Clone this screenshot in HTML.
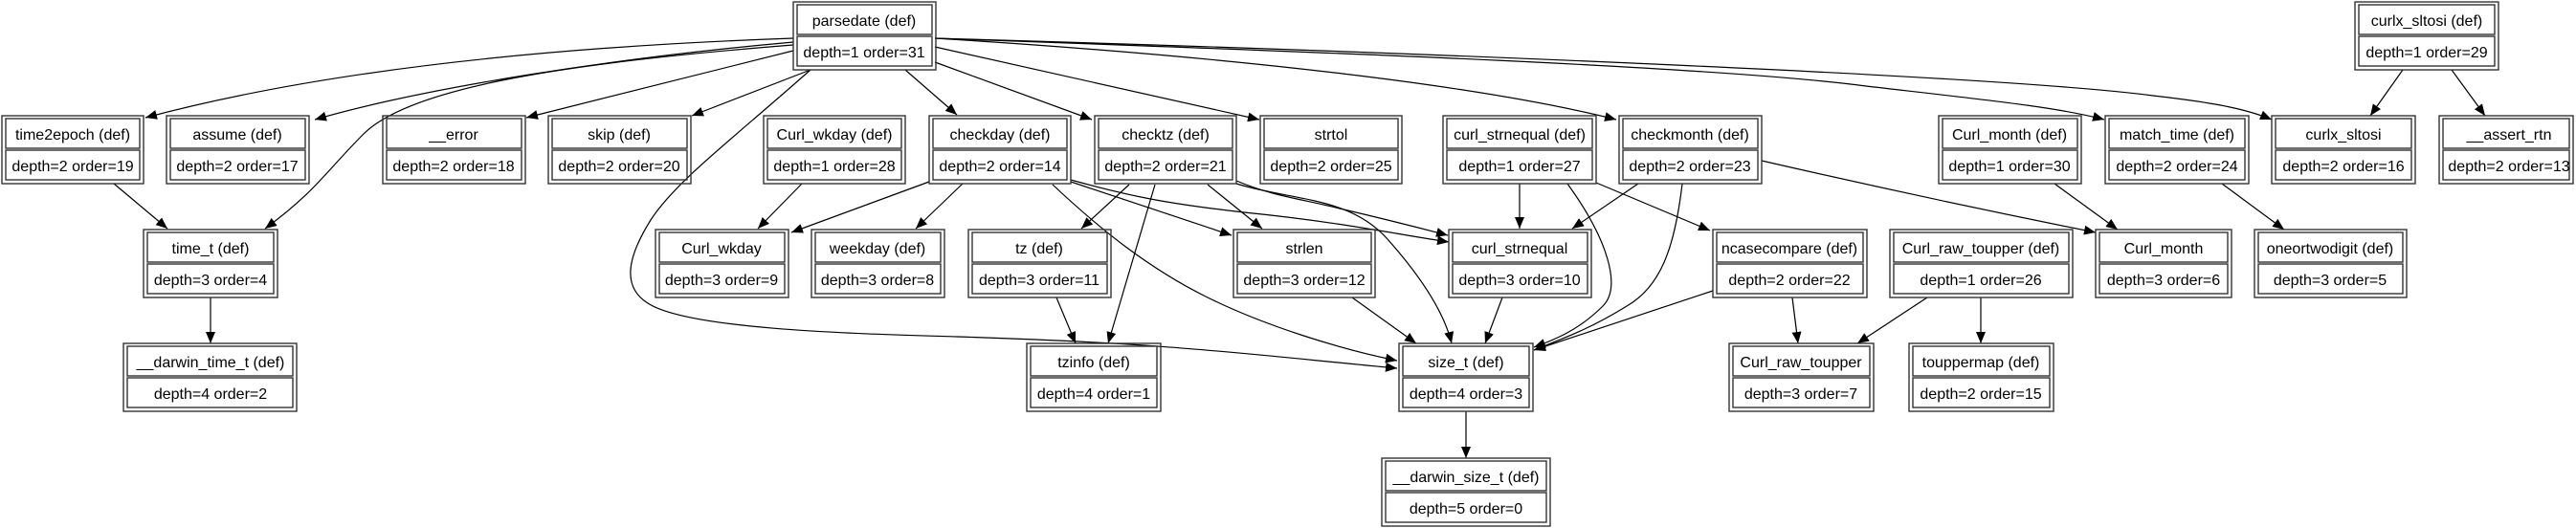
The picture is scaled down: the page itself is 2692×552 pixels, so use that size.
<!DOCTYPE html>
<html><head><meta charset="utf-8"><style>
html,body{margin:0;padding:0;background:#fff;}
svg{display:block;}
text{font-family:"Liberation Sans",Arial,sans-serif;font-size:16px;fill:#000;text-anchor:middle;}
.n rect{fill:none;stroke:#333;stroke-width:1.4;}
.e{fill:none;stroke:#000;stroke-width:1.2;}
</style></head><body>
<svg width="2692" height="552" viewBox="0 0 2692 552" xmlns="http://www.w3.org/2000/svg">
<defs>
<marker id="a" markerUnits="userSpaceOnUse" markerWidth="14" markerHeight="12" refX="12" refY="5" orient="auto">
<path d="M0,0 L12,5 L0,10 Z" fill="#000"/>
</marker>
</defs>
<rect x="0" y="0" width="2692" height="552" fill="#fff"/>

<!-- edges -->
<g class="e" marker-end="url(#a)">
<path d="M829,40 C600,48 350,70 152,123"/>
<path d="M829,44 C650,60 450,90 329,125"/>
<path d="M829,47 C600,65 430,90 380,140 C340,180 330,200 277,239"/>
<path d="M829,53 L550,123"/>
<path d="M847,73 L723,121"/>
<path d="M847,73 C760,150 706,190 680,230 C655,270 650,300 677,317 C720,345 900,349 1000,352 C1227,359 1300,370 1460,385"/>
<path d="M946,73 L1000,120"/>
<path d="M977,65 L1141,125"/>
<path d="M977,49 L1316,125"/>
<path d="M977,40 C1300,60 1550,90 1689,125"/>
<path d="M977,40 C1400,55 1800,70 1950,90 C2080,105 2150,112 2199,125"/>
<path d="M977,40 C1500,55 2100,80 2250,100 C2320,108 2350,115 2374,125"/>
<path d="M119,192 L175,239"/>
<path d="M220,311 L220,359"/>
<path d="M838,192 L792,239"/>
<path d="M971,190 L827,243"/>
<path d="M1006,192 L957,239"/>
<path d="M1100,193 C1150,240 1200,280 1260,310 C1320,340 1400,365 1460,377"/>
<path d="M1119,190 L1287,246"/>
<path d="M1119,188 C1180,205 1220,213 1300,222 C1400,232 1460,245 1514,253"/>
<path d="M1180,193 L1130,239"/>
<path d="M1207,193 L1158,359"/>
<path d="M1262,193 L1319,239"/>
<path d="M1292,189 C1330,205 1360,208 1400,218 C1460,232 1490,240 1513,246"/>
<path d="M1292,192 C1350,210 1410,205 1450,250 C1490,295 1510,330 1517,359"/>
<path d="M1104,311 L1124,359"/>
<path d="M1413,311 L1480,359"/>
<path d="M1570,311 L1552,359"/>
<path d="M1588,192 L1588,239"/>
<path d="M1638,192 C1680,250 1695,300 1675,320 C1650,345 1625,355 1603,363"/>
<path d="M1712,192 L1643,239"/>
<path d="M1758,192 C1750,260 1735,300 1700,320 C1660,345 1630,355 1603,366"/>
<path d="M1668,191 L1787,241"/>
<path d="M1790,304 L1603,366"/>
<path d="M1841,168 C1980,200 2100,225 2190,243"/>
<path d="M2147,192 L2213,240"/>
<path d="M2322,192 L2387,240"/>
<path d="M2511,73 L2477,121"/>
<path d="M2562,73 L2597,121"/>
<path d="M1873,311 L1879,359"/>
<path d="M2014,311 L1941,359"/>
<path d="M2070,311 L2070,359"/>
<path d="M1532,430 L1532,479"/>
</g>

<!-- nodes -->
<g class="n">
<rect x="829" y="2" width="149" height="71"/><rect x="833" y="5" width="141" height="31"/><rect x="833" y="38" width="141" height="31"/>
<text x="903" y="27">parsedate (def)</text><text x="903" y="60">depth=1 order=31</text>

<rect x="2461" y="2" width="150" height="71"/><rect x="2465" y="5" width="142" height="31"/><rect x="2465" y="38" width="142" height="31"/>
<text x="2536" y="27">curlx_sltosi (def)</text><text x="2536" y="60">depth=1 order=29</text>

<rect x="2" y="121" width="148" height="71"/><rect x="6" y="124" width="140" height="31"/><rect x="6" y="157" width="140" height="31"/>
<text x="76" y="146">time2epoch (def)</text><text x="76" y="179">depth=2 order=19</text>

<rect x="174" y="121" width="149" height="71"/><rect x="178" y="124" width="141" height="31"/><rect x="178" y="157" width="141" height="31"/>
<text x="248" y="146">assume (def)</text><text x="248" y="179">depth=2 order=17</text>

<rect x="400" y="121" width="149" height="71"/><rect x="404" y="124" width="141" height="31"/><rect x="404" y="157" width="141" height="31"/>
<text x="474" y="146">__error</text><text x="474" y="179">depth=2 order=18</text>

<rect x="573" y="121" width="149" height="71"/><rect x="577" y="124" width="141" height="31"/><rect x="577" y="157" width="141" height="31"/>
<text x="647" y="146">skip (def)</text><text x="647" y="179">depth=2 order=20</text>

<rect x="798" y="121" width="148" height="71"/><rect x="802" y="124" width="140" height="31"/><rect x="802" y="157" width="140" height="31"/>
<text x="872" y="146">Curl_wkday (def)</text><text x="872" y="179">depth=1 order=28</text>

<rect x="971" y="121" width="148" height="71"/><rect x="975" y="124" width="140" height="31"/><rect x="975" y="157" width="140" height="31"/>
<text x="1045" y="146">checkday (def)</text><text x="1045" y="179">depth=2 order=14</text>

<rect x="1144" y="121" width="148" height="71"/><rect x="1148" y="124" width="140" height="31"/><rect x="1148" y="157" width="140" height="31"/>
<text x="1218" y="146">checktz (def)</text><text x="1218" y="179">depth=2 order=21</text>

<rect x="1317" y="121" width="148" height="71"/><rect x="1321" y="124" width="140" height="31"/><rect x="1321" y="157" width="140" height="31"/>
<text x="1391" y="146">strtol</text><text x="1391" y="179">depth=2 order=25</text>

<rect x="1508" y="121" width="160" height="71"/><rect x="1512" y="124" width="152" height="31"/><rect x="1512" y="157" width="152" height="31"/>
<text x="1588" y="146">curl_strnequal (def)</text><text x="1588" y="179">depth=1 order=27</text>

<rect x="1692" y="121" width="149" height="71"/><rect x="1696" y="124" width="141" height="31"/><rect x="1696" y="157" width="141" height="31"/>
<text x="1766" y="146">checkmonth (def)</text><text x="1766" y="179">depth=2 order=23</text>

<rect x="2026" y="121" width="149" height="71"/><rect x="2030" y="124" width="141" height="31"/><rect x="2030" y="157" width="141" height="31"/>
<text x="2100" y="146">Curl_month (def)</text><text x="2100" y="179">depth=1 order=30</text>

<rect x="2200" y="121" width="150" height="71"/><rect x="2204" y="124" width="142" height="31"/><rect x="2204" y="157" width="142" height="31"/>
<text x="2275" y="146">match_time (def)</text><text x="2275" y="179">depth=2 order=24</text>

<rect x="2374" y="121" width="150" height="71"/><rect x="2378" y="124" width="142" height="31"/><rect x="2378" y="157" width="142" height="31"/>
<text x="2449" y="146">curlx_sltosi</text><text x="2449" y="179">depth=2 order=16</text>

<rect x="2549" y="121" width="140" height="71"/><rect x="2553" y="124" width="132" height="31"/><rect x="2553" y="157" width="132" height="31"/>
<text x="2622" y="146">__assert_rtn</text><text x="2622" y="179">depth=2 order=13</text>

<rect x="150" y="240" width="140" height="71"/><rect x="154" y="243" width="132" height="31"/><rect x="154" y="276" width="132" height="31"/>
<text x="220" y="265">time_t (def)</text><text x="220" y="298">depth=3 order=4</text>

<rect x="685" y="240" width="139" height="71"/><rect x="689" y="243" width="131" height="31"/><rect x="689" y="276" width="131" height="31"/>
<text x="754" y="265">Curl_wkday</text><text x="754" y="298">depth=3 order=9</text>

<rect x="848" y="240" width="139" height="71"/><rect x="852" y="243" width="131" height="31"/><rect x="852" y="276" width="131" height="31"/>
<text x="917" y="265">weekday (def)</text><text x="917" y="298">depth=3 order=8</text>

<rect x="1012" y="240" width="149" height="71"/><rect x="1016" y="243" width="141" height="31"/><rect x="1016" y="276" width="141" height="31"/>
<text x="1086" y="265">tz (def)</text><text x="1086" y="298">depth=3 order=11</text>

<rect x="1289" y="240" width="148" height="71"/><rect x="1293" y="243" width="140" height="31"/><rect x="1293" y="276" width="140" height="31"/>
<text x="1363" y="265">strlen</text><text x="1363" y="298">depth=3 order=12</text>

<rect x="1514" y="240" width="149" height="71"/><rect x="1518" y="243" width="141" height="31"/><rect x="1518" y="276" width="141" height="31"/>
<text x="1588" y="265">curl_strnequal</text><text x="1588" y="298">depth=3 order=10</text>

<rect x="1790" y="240" width="161" height="71"/><rect x="1794" y="243" width="153" height="31"/><rect x="1794" y="276" width="153" height="31"/>
<text x="1870" y="265">ncasecompare (def)</text><text x="1870" y="298">depth=2 order=22</text>

<rect x="1975" y="240" width="191" height="71"/><rect x="1979" y="243" width="183" height="31"/><rect x="1979" y="276" width="183" height="31"/>
<text x="2070" y="265">Curl_raw_toupper (def)</text><text x="2070" y="298">depth=1 order=26</text>

<rect x="2190" y="240" width="142" height="71"/><rect x="2194" y="243" width="134" height="31"/><rect x="2194" y="276" width="134" height="31"/>
<text x="2261" y="265">Curl_month</text><text x="2261" y="298">depth=3 order=6</text>

<rect x="2356" y="240" width="159" height="71"/><rect x="2360" y="243" width="151" height="31"/><rect x="2360" y="276" width="151" height="31"/>
<text x="2435" y="265">oneortwodigit (def)</text><text x="2435" y="298">depth=3 order=5</text>

<rect x="129" y="359" width="181" height="71"/><rect x="133" y="362" width="173" height="31"/><rect x="133" y="395" width="173" height="31"/>
<text x="220" y="384">__darwin_time_t (def)</text><text x="220" y="417">depth=4 order=2</text>

<rect x="1073" y="359" width="140" height="71"/><rect x="1077" y="362" width="132" height="31"/><rect x="1077" y="395" width="132" height="31"/>
<text x="1143" y="384">tzinfo (def)</text><text x="1143" y="417">depth=4 order=1</text>

<rect x="1462" y="359" width="140" height="71"/><rect x="1466" y="362" width="132" height="31"/><rect x="1466" y="395" width="132" height="31"/>
<text x="1532" y="384">size_t (def)</text><text x="1532" y="417">depth=4 order=3</text>

<rect x="1807" y="359" width="151" height="71"/><rect x="1811" y="362" width="143" height="31"/><rect x="1811" y="395" width="143" height="31"/>
<text x="1882" y="384">Curl_raw_toupper</text><text x="1882" y="417">depth=3 order=7</text>

<rect x="1995" y="359" width="151" height="71"/><rect x="1999" y="362" width="143" height="31"/><rect x="1999" y="395" width="143" height="31"/>
<text x="2070" y="384">touppermap (def)</text><text x="2070" y="417">depth=2 order=15</text>

<rect x="1444" y="479" width="176" height="71"/><rect x="1448" y="482" width="168" height="31"/><rect x="1448" y="515" width="168" height="31"/>
<text x="1532" y="504">__darwin_size_t (def)</text><text x="1532" y="537">depth=5 order=0</text>
</g>
</svg>
</body></html>
